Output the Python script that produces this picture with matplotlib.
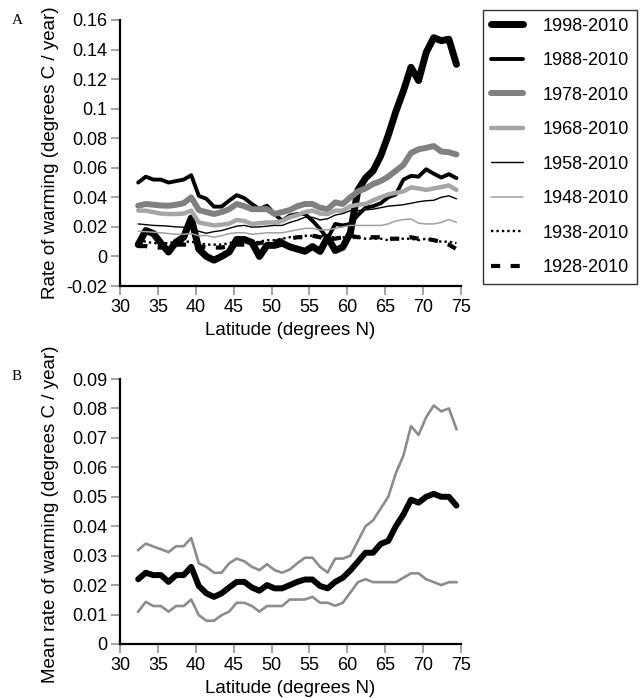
import matplotlib
matplotlib.use("Agg")
import matplotlib.pyplot as plt
import numpy as np

plt.rcParams['font.family'] = ['Liberation Sans', 'DejaVu Sans']

# latitude grid (degrees N), one value per degree
lat = np.arange(32.4, 75.0, 1.0)

# panel A: rate of warming per start period (degrees C / year)
w1998 = [0.008, 0.0175, 0.0155, 0.009, 0.003, 0.0097, 0.013, 0.026, 0.005, 0.000,
         -0.0025, 0.000, 0.003, 0.0115, 0.0115, 0.0095, 0.000, 0.0075, 0.0075, 0.009,
         0.0065, 0.005, 0.0035, 0.0067, 0.0034, 0.013, 0.004, 0.0063, 0.016, 0.045,
         0.053, 0.058, 0.068, 0.082, 0.098, 0.112, 0.128, 0.119, 0.138, 0.148,
         0.146, 0.147, 0.130]
w1988 = [0.050, 0.054, 0.052, 0.052, 0.050, 0.051, 0.052, 0.055, 0.041, 0.039,
         0.0337, 0.0337, 0.0377, 0.0415, 0.0395, 0.0355, 0.0321, 0.0343, 0.0287, 0.0242,
         0.0276, 0.0287, 0.0287, 0.0242, 0.0186, 0.012, 0.022, 0.021, 0.022, 0.028,
         0.033, 0.034, 0.036, 0.040, 0.042, 0.052, 0.0545, 0.054, 0.059, 0.056,
         0.0534, 0.0557, 0.053]
w1978 = [0.0343, 0.0355, 0.035, 0.0345, 0.0343, 0.035, 0.036, 0.040, 0.0314, 0.030,
         0.0287, 0.030, 0.032, 0.0355, 0.034, 0.032, 0.032, 0.032, 0.0287, 0.030,
         0.0314, 0.034, 0.0355, 0.0355, 0.033, 0.032, 0.0366, 0.0355, 0.040, 0.044,
         0.046, 0.049, 0.051, 0.054, 0.058, 0.062, 0.070, 0.0725, 0.0735, 0.0747,
         0.071, 0.0705, 0.069]
w1968 = [0.031, 0.031, 0.030, 0.029, 0.0287, 0.0287, 0.029, 0.031, 0.023, 0.022,
         0.021, 0.0215, 0.0222, 0.0247, 0.024, 0.022, 0.0225, 0.023, 0.023, 0.024,
         0.0265, 0.028, 0.030, 0.031, 0.029, 0.0287, 0.031, 0.031, 0.034, 0.035,
         0.0355, 0.038, 0.040, 0.042, 0.043, 0.044, 0.0467, 0.046, 0.045, 0.046,
         0.047, 0.048, 0.045]
w1958 = [0.022, 0.0215, 0.021, 0.0208, 0.0205, 0.020, 0.0198, 0.019, 0.017, 0.0157,
         0.0168, 0.0175, 0.019, 0.0205, 0.021, 0.0198, 0.020, 0.0205, 0.021, 0.021,
         0.023, 0.0245, 0.0265, 0.0265, 0.0247, 0.0255, 0.028, 0.029, 0.031, 0.031,
         0.0315, 0.032, 0.033, 0.034, 0.0345, 0.035, 0.036, 0.037, 0.0377, 0.038,
         0.040, 0.041, 0.039]
w1948 = [0.017, 0.0168, 0.0164, 0.016, 0.0155, 0.015, 0.015, 0.0155, 0.014, 0.0142,
         0.013, 0.014, 0.0155, 0.016, 0.016, 0.015, 0.0155, 0.016, 0.016, 0.016,
         0.017, 0.018, 0.019, 0.019, 0.018, 0.018, 0.019, 0.020, 0.021, 0.021,
         0.021, 0.021, 0.021, 0.022, 0.024, 0.025, 0.0253, 0.0225, 0.022, 0.022,
         0.023, 0.025, 0.023]
w1938 = [0.011, 0.010, 0.009, 0.009, 0.009, 0.010, 0.010, 0.010, 0.009, 0.008,
         0.008, 0.008, 0.009, 0.010, 0.010, 0.009, 0.010, 0.011, 0.011, 0.012,
         0.013, 0.013, 0.014, 0.014, 0.014, 0.013, 0.013, 0.013, 0.012, 0.013,
         0.012, 0.012, 0.012, 0.011, 0.012, 0.012, 0.012, 0.011, 0.012, 0.011,
         0.010, 0.010, 0.009]
w1928 = [0.007, 0.007, 0.006, 0.006, 0.007, 0.008, 0.008, 0.008, 0.007, 0.006,
         0.006, 0.006, 0.007, 0.008, 0.008, 0.008, 0.009, 0.010, 0.010, 0.011,
         0.012, 0.013, 0.013, 0.014, 0.013, 0.012, 0.012, 0.013, 0.014, 0.013,
         0.013, 0.013, 0.013, 0.012, 0.012, 0.012, 0.013, 0.012, 0.012, 0.011,
         0.010, 0.008, 0.005]

# panel B: mean rate of warming and its envelope
mean_b = [0.022, 0.0242, 0.0234, 0.0234, 0.0211, 0.0234, 0.0234, 0.0262, 0.0197, 0.0172,
          0.016, 0.0172, 0.0192, 0.0211, 0.0211, 0.0192, 0.0181, 0.020, 0.0189, 0.0189,
          0.020, 0.0211, 0.0219, 0.0219, 0.0197, 0.0189, 0.0211, 0.0225, 0.025, 0.028,
          0.031, 0.031, 0.034, 0.035, 0.040, 0.044, 0.049, 0.048, 0.050, 0.051,
          0.050, 0.050, 0.047]
upper_b = [0.0319, 0.0341, 0.0331, 0.0322, 0.0312, 0.0332, 0.0332, 0.036, 0.0274, 0.0262,
           0.0242, 0.0242, 0.0274, 0.029, 0.0281, 0.0262, 0.0251, 0.0271, 0.0251, 0.0242,
           0.0253, 0.0274, 0.0293, 0.0293, 0.0262, 0.0243, 0.029, 0.029, 0.030, 0.035,
           0.040, 0.042, 0.046, 0.050, 0.058, 0.064, 0.074, 0.071, 0.077, 0.081,
           0.079, 0.080, 0.073]
lower_b = [0.011, 0.0143, 0.0129, 0.0129, 0.011, 0.0129, 0.0129, 0.0151, 0.0098, 0.0079,
           0.0079, 0.0098, 0.011, 0.014, 0.014, 0.0129, 0.011, 0.0129, 0.0129, 0.0129,
           0.0151, 0.0151, 0.0151, 0.016, 0.014, 0.014, 0.013, 0.014, 0.0175, 0.021,
           0.022, 0.021, 0.021, 0.021, 0.021, 0.0225, 0.024, 0.024, 0.022, 0.021,
           0.020, 0.021, 0.021]

series_a = [("1998-2010", w1998), ("1988-2010", w1988), ("1978-2010", w1978),
            ("1968-2010", w1968), ("1958-2010", w1958), ("1948-2010", w1948),
            ("1938-2010", w1938), ("1928-2010", w1928)]
styles = [dict(color='black', lw=5.0),
          dict(color='black', lw=2.8),
          dict(color='#808080', lw=4.3),
          dict(color='#a6a6a6', lw=3.2),
          dict(color='black', lw=1.0),
          dict(color='#a0a0a0', lw=1.1),
          dict(color='black', lw=1.7, ls=(0, (1.0, 1.3))),
          dict(color='black', lw=3.0, ls=(0, (2.2, 2.5)))]

xticks = [30, 35, 40, 45, 50, 55, 60, 65, 70, 75]
yticks_a = [-0.02, 0, 0.02, 0.04, 0.06, 0.08, 0.1, 0.12, 0.14, 0.16]
yticks_b = [0, 0.01, 0.02, 0.03, 0.04, 0.05, 0.06, 0.07, 0.08, 0.09]

fig = plt.figure(figsize=(6.41, 6.98), dpi=100)
W, H = 641, 698
axA = fig.add_axes([120 / W, 1 - 286 / H, 341 / W, 266 / H])
axB = fig.add_axes([120 / W, 1 - 644 / H, 341 / W, 265 / H])


def style_axis(ax, yticks):
    for s in ['top', 'right']:
        ax.spines[s].set_visible(False)
    for s in ['left', 'bottom']:
        ax.spines[s].set_linewidth(1.6)
    ax.set_xlim(30, 75)
    ax.set_ylim(yticks[0], yticks[-1])
    ax.set_xticks(xticks)
    ax.set_yticks(yticks)
    ax.set_yticklabels(['%g' % t for t in yticks])
    ax.tick_params(direction='out', length=6.5, width=1.1, color='#8a8a8a',
                   labelsize=13, pad=2.5)
    ax.set_xlabel('Latitude (degrees N)', fontsize=13.5, labelpad=5)


for (name, vals), st in zip(series_a, styles):
    axA.plot(lat, vals, label=name, solid_capstyle='round', solid_joinstyle='round', **st)
style_axis(axA, yticks_a)
axA.set_ylabel('Rate of warming (degrees C / year)', fontsize=13.5)
axA.yaxis.set_label_coords(-0.18, 0.5)

axB.plot(lat, upper_b, color='#8c8c8c', lw=1.9)
axB.plot(lat, lower_b, color='#8c8c8c', lw=1.9)
axB.plot(lat, mean_b, color='black', lw=4.3, solid_capstyle='round', solid_joinstyle='round')
style_axis(axB, yticks_b)
axB.set_ylabel('Mean rate of warming (degrees C / year)', fontsize=13.5)
axB.yaxis.set_label_coords(-0.18, 0.49)

leg = axA.legend(loc='upper left', bbox_to_anchor=(483 / W, 1 - 10 / H),
                 bbox_transform=fig.transFigure, borderaxespad=0, fancybox=False,
                 edgecolor='black', fontsize=13, handlelength=1.8, handletextpad=1.1,
                 labelspacing=0.97, borderpad=0.42)
leg.get_frame().set_linewidth(1.0)

fig.text(12 / W, 1 - 20 / H, 'A', family='Liberation Serif', fontsize=11, va='center')
fig.text(12 / W, 1 - 376 / H, 'B', family='Liberation Serif', fontsize=11, va='center')

fig.savefig('out.png', dpi=100)
